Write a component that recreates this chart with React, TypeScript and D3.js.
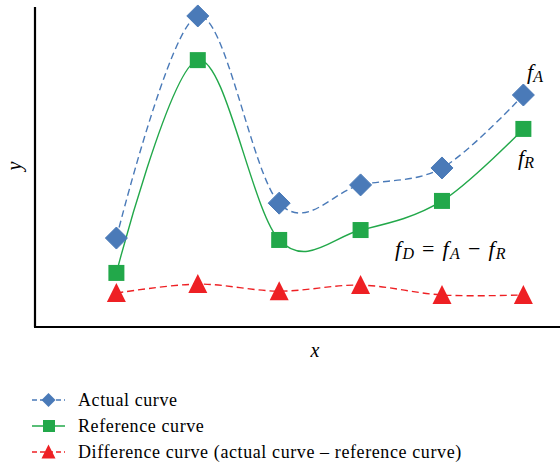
import React from "react";
import * as d3 from "d3";

const xs = [1, 2, 3, 4, 5, 6];
const actual = [2.78, 9.72, 3.87, 4.44, 4.97, 7.25];
const reference = [1.69, 8.34, 2.72, 3.03, 3.94, 6.19];
const difference = [1.06, 1.34, 1.12, 1.31, 1.0, 1.0];

const W = 560;
const H = 468;
const font = "'Liberation Serif', 'DejaVu Serif', serif";

const BLUE = "#4a7ab8";
const GREEN = "#22a84a";
const RED = "#ee2024";

export default function App() {
  const x = d3.scaleLinear().domain([0, 6.45]).range([35, 560]);
  const y = d3.scaleLinear().domain([0, 10]).range([327, 7]);
  const line = (vals: number[]) =>
    d3
      .line<number>()
      .x((_, i) => x(xs[i]))
      .y((d) => y(d))
      .curve(d3.curveCardinal.tension(0))(vals) || "";

  const diamond = (cx: number, cy: number, r = 11) =>
    `M${cx},${cy - r}L${cx + r},${cy}L${cx},${cy + r}L${cx - r},${cy}Z`;
  const tri = (cx: number, cy: number, w = 19, h = 18) =>
    `M${cx},${cy - h / 2 - 1}L${cx + w / 2},${cy + h / 2}L${cx - w / 2},${cy + h / 2}Z`;

  const legend = [
    { label: "Actual curve", color: BLUE, dash: "5,3", kind: "d" },
    { label: "Reference curve", color: GREEN, dash: "", kind: "s" },
    { label: "Difference curve (actual curve \u2013 reference curve)", color: RED, dash: "5,3", kind: "t" },
  ];

  return (
    <svg width={W} height={H} style={{ position: "absolute", left: 0, top: 0, background: "#fff" }}>
      <rect width={W} height={H} fill="#fff" />
      {/* axes */}
      <line x1={35} y1={7} x2={35} y2={327} stroke="#000" strokeWidth={2.2} />
      <line x1={34} y1={327} x2={560} y2={327} stroke="#000" strokeWidth={2.2} />

      {/* lines */}
      <path d={line(actual)} fill="none" stroke={BLUE} strokeWidth={1.4} strokeDasharray="7,4" />
      <path d={line(reference)} fill="none" stroke={GREEN} strokeWidth={1.4} />
      <path d={line(difference)} fill="none" stroke={RED} strokeWidth={1.4} strokeDasharray="7,4" />

      {/* markers */}
      {actual.map((v, i) => (
        <path key={"a" + i} d={diamond(x(xs[i]), y(v))} fill={BLUE} stroke={BLUE} strokeWidth={1} strokeLinejoin="round" />
      ))}
      {reference.map((v, i) => (
        <rect key={"r" + i} x={x(xs[i]) - 8} y={y(v) - 8} width={16} height={16} fill={GREEN} />
      ))}
      {difference.map((v, i) => (
        <path key={"d" + i} d={tri(x(xs[i]), y(v))} fill={RED} />
      ))}

      {/* axis labels */}
      <text x={0} y={0} transform="translate(21,166) rotate(-90)" fontFamily={font} fontStyle="italic" fontSize={20} textAnchor="middle">y</text>
      <text x={315} y={357} fontFamily={font} fontStyle="italic" fontSize={20} textAnchor="middle">x</text>

      {/* annotations */}
      <text x={527} y={79} fontFamily={font} fontStyle="italic" fontSize={22}>
        f<tspan fontSize={16} dy={3}>A</tspan>
      </text>
      <text x={518} y={165} fontFamily={font} fontStyle="italic" fontSize={22}>
        f<tspan fontSize={16} dy={3}>R</tspan>
      </text>
      <text x={395} y={256} fontFamily={font} fontSize={22} letterSpacing={1.3}>
        <tspan fontStyle="italic">f</tspan>
        <tspan fontStyle="italic" fontSize={16} dy={3}>D</tspan>
        <tspan dy={-3}> = </tspan>
        <tspan fontStyle="italic">f</tspan>
        <tspan fontStyle="italic" fontSize={16} dy={3}>A</tspan>
        <tspan dy={-3}> {"\u2212"} </tspan>
        <tspan fontStyle="italic">f</tspan>
        <tspan fontStyle="italic" fontSize={16} dy={3}>R</tspan>
      </text>

      {/* legend */}
      {legend.map((l, i) => {
        const cy = 400 + i * 26;
        return (
          <g key={l.label}>
            <line x1={32} x2={65} y1={cy} y2={cy} stroke={l.color} strokeWidth={1.4} strokeDasharray={l.dash || undefined} />
            {l.kind === "d" && <path d={diamond(48.5, cy, 7)} fill={l.color} />}
            {l.kind === "s" && <rect x={43} y={cy - 6} width={12} height={12} fill={l.color} />}
            {l.kind === "t" && <path d={tri(48.5, cy, 14, 13)} fill={l.color} />}
            <text x={78} y={cy + 6} fontFamily={font} fontSize={18} letterSpacing={0.6}>{l.label}</text>
          </g>
        );
      })}
    </svg>
  );
}
